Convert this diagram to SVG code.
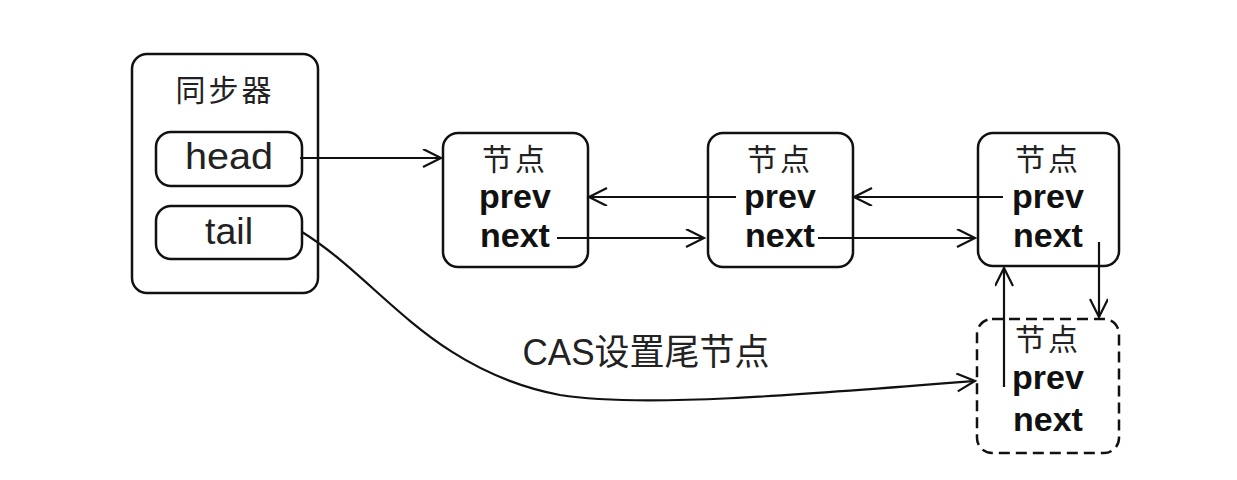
<svg xmlns="http://www.w3.org/2000/svg" width="1237" height="480" viewBox="0 0 1237 480">
<defs>
<style>
.box{fill:#fff;stroke:#111;stroke-width:2.5}
.dash{fill:#fff;stroke:#111;stroke-width:2.5;stroke-dasharray:11 6}
.edge{fill:none;stroke:#111;stroke-width:2.2}
.cjk{font-family:"Noto Sans CJK SC","Liberation Sans",sans-serif;font-size:30px;fill:#222;text-anchor:middle}
.reg{font-family:"Liberation Sans","Noto Sans CJK SC",sans-serif;font-size:36px;fill:#222;text-anchor:middle}
.bold{font-family:"Liberation Sans",sans-serif;font-weight:bold;font-size:34px;fill:#111;text-anchor:middle}
</style>
<marker id="arr" markerUnits="userSpaceOnUse" markerWidth="24" markerHeight="24" refX="19" refY="9" orient="auto">
<path d="M1,0 L19,9 L1,18" fill="none" stroke="#111" stroke-width="2.2"/>
</marker>
</defs>
<rect width="1237" height="480" fill="#fff"/>
<g id="sync">
<rect class="box" x="132" y="54" width="186" height="239" rx="15"/>
<text class="cjk" x="225" y="101" font-size="31" letter-spacing="3">同步器</text>
</g>
<g id="head">
<rect class="box" x="156" y="132" width="146" height="54" rx="15"/>
<text class="reg" x="229" y="169" textLength="88" lengthAdjust="spacingAndGlyphs">head</text>
</g>
<g id="tail">
<rect class="box" x="156" y="206" width="146" height="53" rx="15"/>
<text class="reg" x="229" y="244" textLength="48" lengthAdjust="spacingAndGlyphs">tail</text>
</g>
<g id="node1">
<rect class="box" x="443" y="133" width="145" height="134" rx="15"/>
<text class="cjk" x="515" y="170" letter-spacing="3">节点</text>
<text class="bold" x="515" y="208">prev</text>
<text class="bold" x="515" y="247">next</text>
</g>
<g id="node2">
<rect class="box" x="708" y="133" width="145" height="134" rx="15"/>
<text class="cjk" x="780" y="170" letter-spacing="3">节点</text>
<text class="bold" x="780" y="208">prev</text>
<text class="bold" x="780" y="247">next</text>
</g>
<g id="node3">
<rect class="box" x="978" y="133" width="141" height="133" rx="15"/>
<text class="cjk" x="1048" y="170" letter-spacing="3">节点</text>
<text class="bold" x="1048" y="208">prev</text>
<text class="bold" x="1048" y="247">next</text>
</g>
<g id="node4">
<rect class="dash" x="977" y="319" width="142" height="134" rx="15"/>
<text class="cjk" x="1048" y="350" letter-spacing="3">节点</text>
<text class="bold" x="1048" y="389">prev</text>
<text class="bold" x="1048" y="431">next</text>
</g>
<g id="connectors">
<line class="edge" x1="300" y1="158" x2="441" y2="158" marker-end="url(#arr)"/>
<line class="edge" x1="736" y1="197" x2="589" y2="197" marker-end="url(#arr)"/>
<line class="edge" x1="557" y1="238" x2="704" y2="238" marker-end="url(#arr)"/>
<line class="edge" x1="1003" y1="197" x2="854" y2="197" marker-end="url(#arr)"/>
<line class="edge" x1="818" y1="238" x2="975" y2="238" marker-end="url(#arr)"/>
<line class="edge" x1="1099" y1="242" x2="1099" y2="317" marker-end="url(#arr)"/>
<line class="edge" x1="1004" y1="387" x2="1004" y2="268" marker-end="url(#arr)"/>
<path class="edge" d="M302,232 C380,280 430,370 560,395 C640,408 800,395 975,381" marker-end="url(#arr)"/>
<text class="reg" x="646" y="365" font-size="31" textLength="247" lengthAdjust="spacingAndGlyphs">CAS设置尾节点</text>
</g>
</svg>
